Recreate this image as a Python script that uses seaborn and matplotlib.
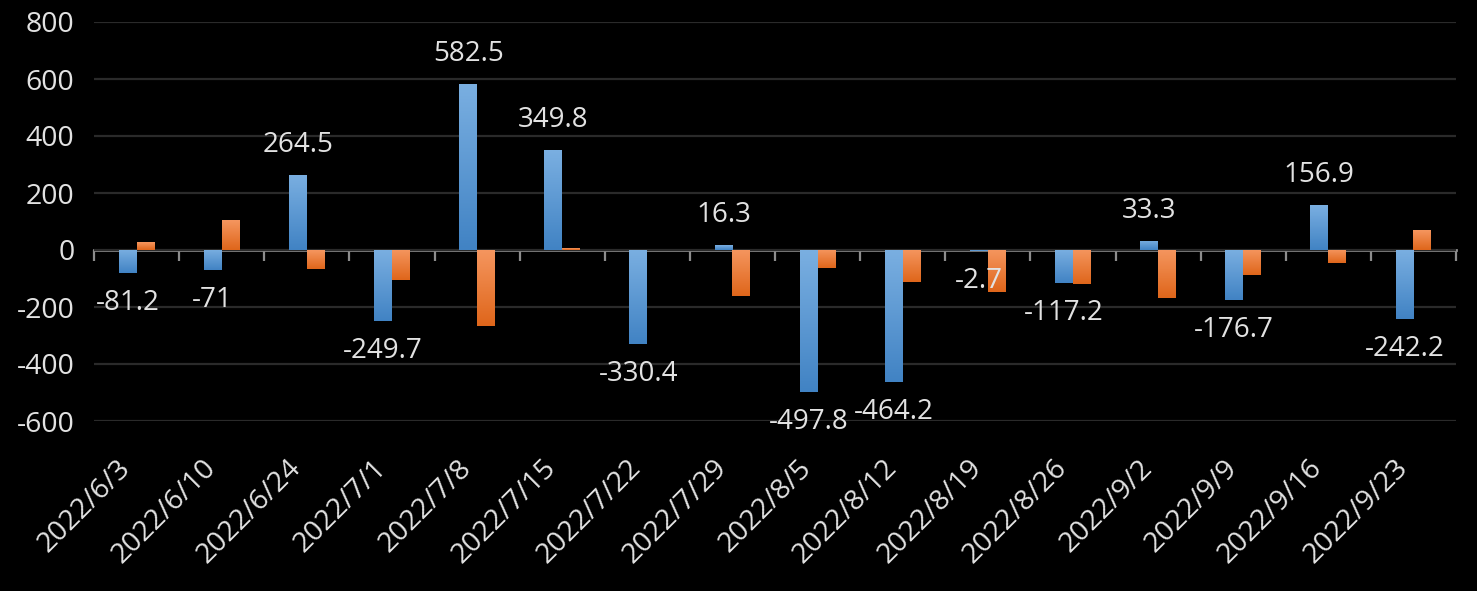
import numpy as np
import pandas as pd
import seaborn as sns
import matplotlib
matplotlib.use('Agg')
import matplotlib.pyplot as plt
from matplotlib.colors import LinearSegmentedColormap

dates = ['2022/6/3', '2022/6/10', '2022/6/24', '2022/7/1', '2022/7/8', '2022/7/15',
         '2022/7/22', '2022/7/29', '2022/8/5', '2022/8/12', '2022/8/19', '2022/8/26',
         '2022/9/2', '2022/9/9', '2022/9/16', '2022/9/23']
blue_vals = [-81.2, -71, 264.5, -249.7, 582.5, 349.8, -330.4, 16.3, -497.8, -464.2,
             -2.7, -117.2, 33.3, -176.7, 156.9, -242.2]
orange_vals = [27, 104, -66, -106, -268, 6, 0, -162, -64, -113, -148, -120, -169, -89, -47, 69]
series = ['系列1', '系列2']
y_ticks = [-600, -400, -200, 0, 200, 400, 600, 800]

BG = 'black'
TXT = '#e2e2e2'
FONT = ['Open Sans', 'DejaVu Sans']

df = pd.concat([
    pd.DataFrame({'date': dates, 'value': blue_vals, 'series': series[0]}),
    pd.DataFrame({'date': dates, 'value': orange_vals, 'series': series[1]}),
])

sns.set_style('dark')
plt.rcParams['font.family'] = FONT

fig = plt.figure(figsize=(14.77, 5.91), dpi=100, facecolor=BG)
ax = fig.add_axes([94 / 1477, 1 - 421 / 591, (1456 - 94) / 1477, (421 - 22) / 591])
ax.set_facecolor(BG)

sns.barplot(data=df, x='date', y='value', hue='series', order=dates,
            palette=['#5b9bd5', '#ed7d31'], width=0.42, gap=0, legend=False,
            saturation=1, linewidth=0, edgecolor='none', ax=ax, zorder=3)

# gradient fill like the office chart
grads = [('#7aafe1', '#4183c4'), ('#f5965f', '#df661b')]
g = np.linspace(0, 1, 64).reshape(-1, 1)
for cont, (c0, c1) in zip(ax.containers, grads):
    cmap = LinearSegmentedColormap.from_list('g', [c0, c1])
    for p in cont.patches:
        x0, y0 = p.get_x(), p.get_y()
        w, h = p.get_width(), p.get_height()
        if h == 0:
            continue
        lo, hi = min(y0, y0 + h), max(y0, y0 + h)
        im = ax.imshow(g, extent=[x0, x0 + w, lo, hi], cmap=cmap, aspect='auto',
                       origin='upper', zorder=3.5, interpolation='bilinear')
        im.set_clip_path(p)

# value labels on the first series only
for p, v in zip(ax.containers[0].patches, blue_vals):
    xc = p.get_x() + p.get_width() / 2
    off = 21.5 if v >= 0 else -21.5
    ax.annotate('{:g}'.format(v), xy=(xc, v), xytext=(0, off), textcoords='offset points',
                ha='center', va='center', color=TXT, fontsize=20, zorder=5)

ax.set_xlim(-0.5, len(dates) - 0.5)
ax.set_ylim(-600, 800)
ax.set_yticks(y_ticks)
ax.set_yticklabels([str(t) for t in y_ticks])
ax.grid(axis='y', color='#2a2a2a', linewidth=1.6, zorder=0)
ax.grid(axis='x', visible=False)
for s in ax.spines.values():
    s.set_visible(False)
ax.set_xlabel('')
ax.set_ylabel('')

ax.tick_params(axis='y', length=0, pad=14, labelsize=20.5, labelcolor=TXT)
ax.tick_params(axis='x', length=0, pad=24, labelsize=20.5, labelcolor=TXT)
plt.setp(ax.get_xticklabels(), rotation=45, ha='right', va='top',
         rotation_mode='default')

# category axis line at zero with boundary ticks
zero_ax = ax.secondary_xaxis(600 / 1400)
zero_ax.spines['bottom'].set_color('#8c8c8c')
zero_ax.spines['bottom'].set_linewidth(2)
zero_ax.set_xticks(np.arange(-0.5, len(dates), 1.0))
zero_ax.tick_params(axis='x', length=8, width=1.6, color='#8c8c8c', direction='out',
                    labelbottom=False)

fig.savefig('out.png', dpi=100, facecolor=BG)
